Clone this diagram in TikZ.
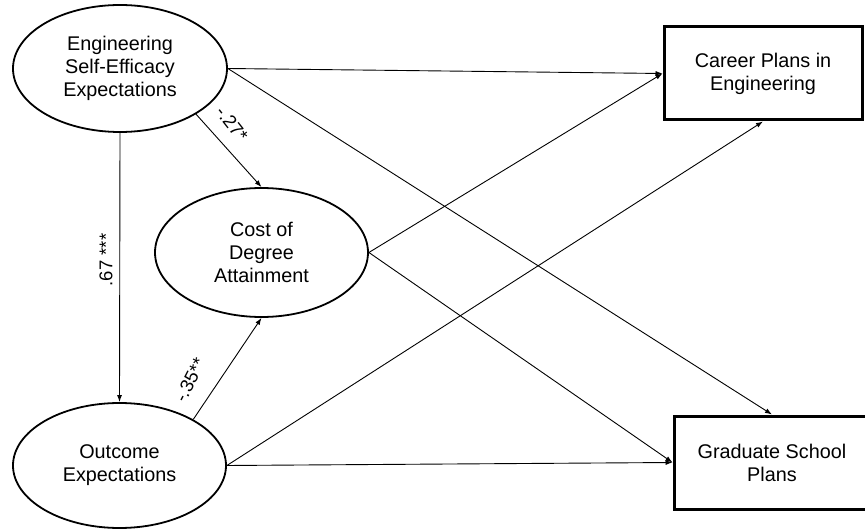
\documentclass[tikz,border=0pt]{standalone}
\usepackage{fontspec}
\setmainfont{Liberation Sans}
\usetikzlibrary{shapes.geometric,arrows.meta}
\begin{document}
\begin{tikzpicture}[x=1pt,y=-1pt,
  latent/.style={draw,ellipse,line width=1.8pt,inner sep=0pt,align=center,
    font=\fontsize{19.8}{23}\selectfont},
  observed/.style={draw,rectangle,line width=3pt,inner sep=0pt,align=center,
    minimum height=93pt,font=\fontsize{19.8}{23}\selectfont},
  path/.style={line width=0.9pt,-{Latex[length=7pt,width=5pt]}},
  coef/.style={font=\fontsize{18.5}{20}\selectfont,inner sep=0pt}]
\useasboundingbox[fill=white] (0,0) rectangle (865,529);
\node[latent,minimum width=214pt,minimum height=127pt] (ese) at (120,68.5)
  {Engineering\\Self-Efficacy\\Expectations};
\node[latent,minimum width=213pt,minimum height=129pt] (cost) at (261.5,252.5)
  {Cost of\\Degree\\Attainment};
\node[latent,minimum width=213pt,minimum height=125pt] (oe) at (119.5,465.5)
  {Outcome\\Expectations};
\node[observed,minimum width=198pt] (career) at (763,73.5)
  {Career Plans in\\Engineering};
\node[observed,minimum width=196pt] (grad) at (772,462.5)
  {Graduate School\\Plans};
\draw[path] (ese.east) -- (career.west);
\draw[path] (ese.east) -- (grad.north);
\draw[path] (ese.-31) -- (cost.north);
\draw[path] (ese.south) -- (oe.north);
\draw[path] (cost.east) -- (career.west);
\draw[path] (cost.east) -- (grad.west);
\draw[path] (oe.east) -- (career.south);
\draw[path] (oe.east) -- (grad.west);
\draw[path] (oe.32) -- (cost.south);
\node[coef,rotate=-52] (l27) at (232,124) {-.27*};
\node[coef,rotate=63] (l35) at (190,380) {-.35**};
\node[coef,rotate=90] (l67) at (106,260) {.67 ***};
\end{tikzpicture}
\end{document}
